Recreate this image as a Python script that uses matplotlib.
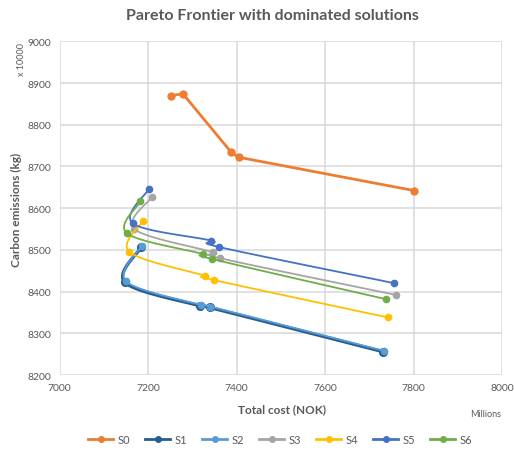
import numpy as np
import matplotlib.pyplot as plt
from matplotlib.lines import Line2D

plt.rcParams['font.family'] = ['Lato', 'DejaVu Sans']

names = ["S0", "S1", "S2", "S3", "S4", "S5", "S6"]
colors = ["#ED7D31", "#255E91", "#5B9BD5", "#A5A5A5", "#FFC000", "#4472C4", "#70AD47"]

s0_x = [7252, 7279, 7388, 7405, 7802]
s0_y = [8870, 8874, 8734, 8722, 8642]
s1_x = [7184, 7148, 7317, 7339, 7731]
s1_y = [8506, 8422, 8366, 8362, 8256]
s2_x = [7186, 7150, 7319, 7341, 7733]
s2_y = [8510, 8425, 8368, 8364, 8258]
s3_x = [7208, 7169, 7347, 7363, 7760]
s3_y = [8626, 8550, 8494, 8480, 8392]
s4_x = [7189, 7158, 7328, 7348, 7742]
s4_y = [8570, 8495, 8438, 8428, 8338]
s5_x = [7202, 7165, 7343, 7360, 7757]
s5_y = [8646, 8564, 8522, 8507, 8420]
s6_x = [7183, 7152, 7324, 7345, 7737]
s6_y = [8616, 8540, 8490, 8478, 8382]

xs = [s0_x, s1_x, s2_x, s3_x, s4_x, s5_x, s6_x]
ys = [s0_y, s1_y, s2_y, s3_y, s4_y, s5_y, s6_y]
smooth = [False, True, True, True, True, True, True]
widths = [2.0, 2.4, 1.3, 1.3, 1.3, 1.3, 1.3]
msizes = [5, 5.5, 4.5, 4.5, 4.5, 4.5, 4.5]


def excel_smooth(x, y, n=30):
    # bezier through the points, control points like excel's smoothed lines
    p = np.column_stack([x, y]).astype(float)
    # scale so that smoothing behaves the same in screen space
    sc = np.array([0.445, 0.417])
    q = p * sc
    q = np.vstack([q[0], q, q[-1]])
    out = []
    t = np.linspace(0, 1, n)[:, None]
    for i in range(1, len(q) - 2):
        a, b = q[i], q[i + 1]
        c1 = a + (q[i + 1] - q[i - 1]) / 6
        c2 = b - (q[i + 2] - q[i]) / 6
        seg = (1 - t) ** 3 * a + 3 * (1 - t) ** 2 * t * c1 + 3 * (1 - t) * t ** 2 * c2 + t ** 3 * b
        out.append(seg)
    out = np.vstack(out) / sc
    return out[:, 0], out[:, 1]


fig = plt.figure(figsize=(5.14, 4.56), dpi=100)
ax = fig.add_axes([0.1158, 0.1754, 0.8609, 0.7318])

for i in range(len(names)):
    if smooth[i]:
        lx, ly = excel_smooth(xs[i], ys[i])
    else:
        lx, ly = xs[i], ys[i]
    ax.plot(lx, ly, color=colors[i], lw=widths[i], solid_capstyle='round', zorder=2 + i)
    ax.plot(xs[i], ys[i], 'o', color=colors[i], ms=msizes[i], zorder=2 + i)

ax.set_xlim(7000, 8000)
ax.set_ylim(8200, 9000)
ax.set_xticks(np.arange(7000, 8001, 200))
ax.set_yticks(np.arange(8200, 9001, 100))
ax.grid(True, color="#D9D9D9", lw=1.1)
ax.set_axisbelow(True)
for s in ax.spines.values():
    s.set_visible(False)
ax.tick_params(length=0, labelsize=7.5, labelcolor="#595959", pad=6)

fig.text(0.53, 0.965, "Pareto Frontier with dominated solutions", ha='center', va='center',
         fontsize=11.5, fontweight='bold', color="#595959")
fig.text(0.042, 0.87, "x 10000", rotation=90, ha='center', va='center', fontsize=6.5, color="#595959")
fig.text(0.033, 0.54, "Carbon emissions (kg)", rotation=90, ha='center', va='center',
         fontsize=8.5, fontweight='bold', color="#595959")
fig.text(0.548, 0.101, "Total cost (NOK)", ha='center', va='center',
         fontsize=8.5, fontweight='bold', color="#595959")
fig.text(0.945, 0.09, "Millions", ha='center', va='center', fontsize=6.5, color="#595959")

handles = [Line2D([0], [0], color=colors[i], lw=2, marker='o', ms=4) for i in range(len(names))]
fig.legend(handles, names, loc='center', bbox_to_anchor=(0.545, 0.035), ncol=7, frameon=False,
           fontsize=8, handlelength=2.2, columnspacing=1.4, handletextpad=0.4,
           labelcolor="#595959")

fig.savefig("out.png", dpi=100)
